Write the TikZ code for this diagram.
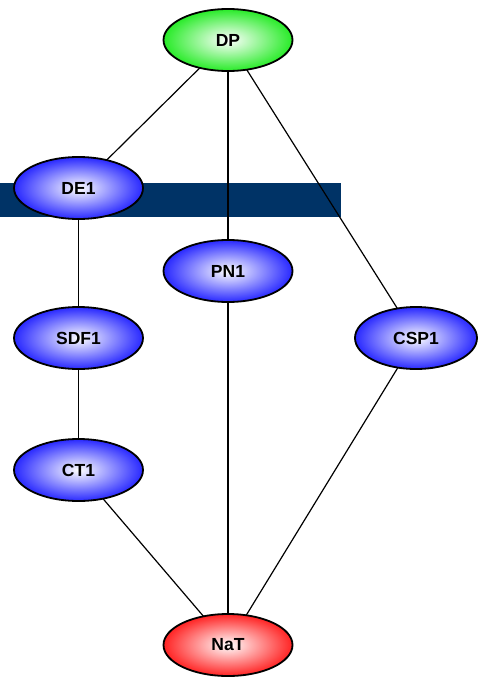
\documentclass[tikz,border=0pt]{standalone}
\usepackage{fontspec}
\setmainfont{Liberation Sans}
\usetikzlibrary{shapes.geometric,backgrounds}
\definecolor{navybar}{RGB}{0,51,102}
\definecolor{bluenode}{RGB}{40,40,255}
\definecolor{greennode}{RGB}{40,235,40}
\definecolor{rednode}{RGB}{255,35,35}
\tikzset{
  blob/.style={ellipse, draw=black, line width=1.8pt, inner sep=0pt,
    minimum width=129pt, minimum height=62pt, inner color=white,
    font=\bfseries\fontsize{17.5}{20}\selectfont},
  bluenode/.style={blob, outer color=bluenode},
  greennode/.style={blob, outer color=greennode},
  rednode/.style={blob, outer color=rednode},
  link/.style={draw=black, line width=1.2pt}
}
\begin{document}
\begin{tikzpicture}[x=1pt,y=-1pt]
  \useasboundingbox (0,0) rectangle (477,677);
  % nodes
  \node[greennode] (DP)   at (228,40)  {DP};
  \node[bluenode]  (DE1)  at (78.5,188) {DE1};
  \node[bluenode]  (PN1)  at (228,271) {PN1};
  \node[bluenode]  (SDF1) at (78.5,338) {SDF1};
  \node[bluenode, minimum width=122pt] (CSP1) at (416,338) {CSP1};
  \node[bluenode]  (CT1)  at (78.5,470) {CT1};
  \node[rednode]   (NaT)  at (228,645) {NaT};
  \begin{scope}[on background layer]
    % horizontal band behind the links
    \fill[navybar] (0,183) rectangle (341,216.5);
    % links between node centres
    \draw[link] (DP.center) -- (DE1.center);
    \draw[link] (DP.center) -- (PN1.center);
    \draw[link] (DP.center) -- (CSP1.center);
    \draw[link] (DE1.center) -- (SDF1.center);
    \draw[link] (SDF1.center) -- (CT1.center);
    \draw[link] (CT1.center) -- (NaT.center);
    \draw[link] (PN1.center) -- (NaT.center);
    \draw[link] (CSP1.center) -- (NaT.center);
  \end{scope}
\end{tikzpicture}
\end{document}
